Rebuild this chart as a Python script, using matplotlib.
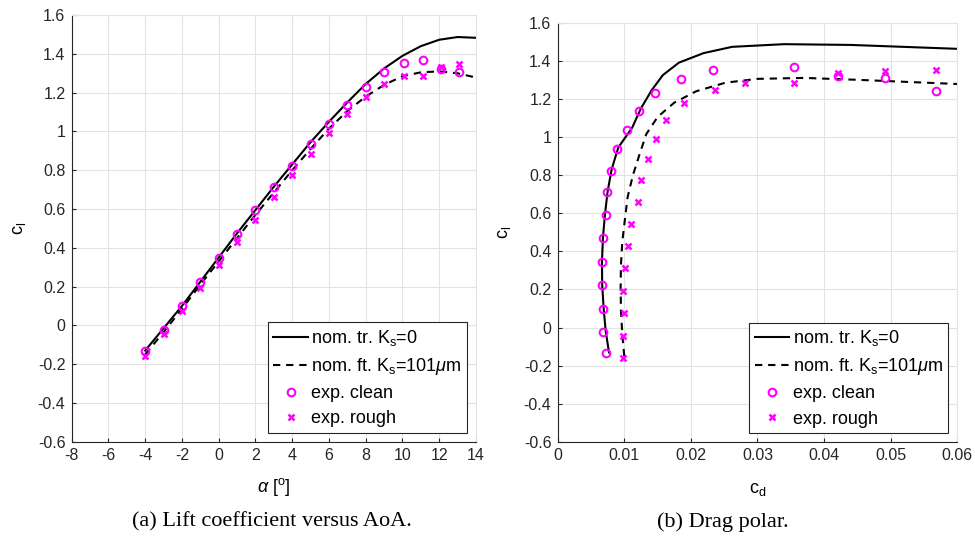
import numpy as np
import matplotlib
matplotlib.use("Agg")
import matplotlib.pyplot as plt
from matplotlib.ticker import FormatStrFormatter, MultipleLocator

plt.rcParams['font.family'] = ['Liberation Sans', 'DejaVu Sans']
plt.rcParams['mathtext.fontset'] = 'custom'
plt.rcParams['mathtext.rm'] = 'Liberation Sans'
plt.rcParams['mathtext.it'] = 'Liberation Sans:italic'
plt.rcParams['axes.unicode_minus'] = False

# ---------------- data ----------------
# numerical polars (nominal transition / fully turbulent rough)
alpha_num = [-4, -3, -2, -1, 0, 1, 2, 3, 4, 5, 6, 7, 8, 9, 10, 11, 12, 13, 14, 15]
cl_tr = [-0.13, -0.015, 0.10, 0.225, 0.35, 0.475, 0.595, 0.715, 0.83, 0.945,
         1.05, 1.15, 1.245, 1.325, 1.39, 1.44, 1.473, 1.487, 1.483, 1.46]
cd_tr = [0.0077, 0.0072, 0.0069, 0.00668, 0.00665, 0.0068, 0.0071, 0.0075, 0.0081, 0.0091,
         0.0112, 0.0125, 0.0141, 0.0158, 0.0182, 0.0219, 0.0262, 0.034, 0.044, 0.062]
cl_ft = [-0.15, -0.035, 0.085, 0.21, 0.33, 0.45, 0.57, 0.685, 0.80, 0.91,
         1.015, 1.105, 1.18, 1.24, 1.285, 1.305, 1.31, 1.30, 1.278, 1.255]
cd_ft = [0.0100, 0.0097, 0.0095, 0.00945, 0.0095, 0.0097, 0.0101, 0.0105, 0.0113, 0.0123,
         0.0133, 0.0150, 0.0175, 0.0208, 0.0252, 0.030, 0.037, 0.045, 0.060, 0.072]

# experiments
alpha_exp = [-4, -3, -2, -1, 0, 1, 2, 3, 4, 5, 6, 7, 8, 9, 10.1, 11.1, 12.1, 13.1, 14.4]
cl_clean = [-0.133, -0.022, 0.098, 0.224, 0.346, 0.471, 0.593, 0.712, 0.822, 0.936,
            1.039, 1.138, 1.230, 1.305, 1.354, 1.368, 1.322, 1.307, 1.242]
cd_clean = [0.0072, 0.00676, 0.00676, 0.00665, 0.00665, 0.00685, 0.00725, 0.0074, 0.00805, 0.00886,
            0.01036, 0.0122, 0.0146, 0.01856, 0.02337, 0.03553, 0.04214, 0.0492, 0.0568]
cl_rough = [-0.16, -0.045, 0.075, 0.194, 0.312, 0.428, 0.546, 0.66, 0.774, 0.886,
            0.99, 1.089, 1.178, 1.245, 1.284, 1.284, 1.335, 1.348, 1.352]
cd_rough = [0.00985, 0.00985, 0.00995, 0.00985, 0.01015, 0.0105, 0.011, 0.012, 0.01255, 0.0135,
            0.0148, 0.0163, 0.019, 0.0236, 0.0282, 0.0355, 0.0421, 0.0492, 0.0568]

labels = ['nom. tr. K$_\\mathregular{s}$=0',
          'nom. ft. K$_\\mathregular{s}$=101$\\mu$m',
          'exp. clean', 'exp. rough']

mag = '#ff00ff'
axc = '#262626'
gridc = '#e3e3e3'


def style(ax):
    ax.grid(True, color=gridc, linewidth=0.8)
    ax.set_axisbelow(True)
    for s in ['top', 'right']:
        ax.spines[s].set_color(gridc)
    for s in ['left', 'bottom']:
        ax.spines[s].set_color(axc)
        ax.spines[s].set_linewidth(0.8)
    ax.tick_params(direction='in', length=3, width=0.8, colors=axc,
                   labelsize=11.5, pad=4.5, top=False, right=False)
    ax.set_ylim(-0.6, 1.6)
    ax.yaxis.set_major_locator(MultipleLocator(0.2))
    ax.yaxis.set_major_formatter(FormatStrFormatter('%g'))
    ax.xaxis.set_major_formatter(FormatStrFormatter('%g'))


def draw(ax, x_tr, x_ft, x_cl, x_ro):
    ax.plot(x_tr, cl_tr, color='k', lw=1.5, label=labels[0])
    ax.plot(x_ft, cl_ft, color='k', lw=1.5, linestyle=(0, (3.5, 2.8)), label=labels[1])
    ax.plot(x_cl, cl_clean, linestyle='none', marker='o', ms=5.5, mfc='none',
            mec=mag, mew=1.5, label=labels[2])
    ax.plot(x_ro, cl_rough, linestyle='none', marker='x', ms=3.8,
            mec=mag, mew=1.8, label=labels[3])
    leg = ax.legend(loc='lower right', bbox_to_anchor=(1, 0), borderaxespad=0.5,
                    fontsize=13, fancybox=False, framealpha=1, edgecolor=axc,
                    handlelength=1.9, handletextpad=0.2, labelspacing=0.45,
                    borderpad=0.3, numpoints=1)
    leg.get_frame().set_linewidth(0.8)


fig = plt.figure(figsize=(9.75, 5.4), dpi=100)

# (a) lift curve
ax1 = fig.add_axes([0.0735, 0.182, 0.4147, 0.790])
style(ax1)
draw(ax1, alpha_num, alpha_num, alpha_exp, alpha_exp)
ax1.set_xlim(-8, 14)
ax1.xaxis.set_major_locator(MultipleLocator(2))
ax1.set_xlabel('$\\alpha$ [$^\\mathregular{o}$]', fontsize=13, va='center')
ax1.xaxis.set_label_coords(0.5, -0.106)
ax1.set_ylabel('$\\mathregular{c_l}$', fontsize=13, va='center')
ax1.yaxis.set_label_coords(-0.128, 0.5)

# (b) drag polar
ax2 = fig.add_axes([0.572, 0.1815, 0.4098, 0.7766])
style(ax2)
draw(ax2, cd_tr, cd_ft, cd_clean, cd_rough)
ax2.set_xlim(0, 0.06)
ax2.xaxis.set_major_locator(MultipleLocator(0.01))
ax2.set_xlabel('$\\mathregular{c_d}$', fontsize=13, va='center')
ax2.xaxis.set_label_coords(0.5, -0.114)
ax2.set_ylabel('$\\mathregular{c_l}$', fontsize=13, va='center')
ax2.yaxis.set_label_coords(-0.132, 0.5)

fig.text(272 / 975, 1 - 522 / 540, '(a) Lift coefficient versus AoA.',
         family='Liberation Serif', fontsize=16, ha='center', va='center')
fig.text(723 / 975, 1 - 522 / 540, '(b) Drag polar.',
         family='Liberation Serif', fontsize=16, ha='center', va='center')

fig.savefig('out.png', dpi=100)
